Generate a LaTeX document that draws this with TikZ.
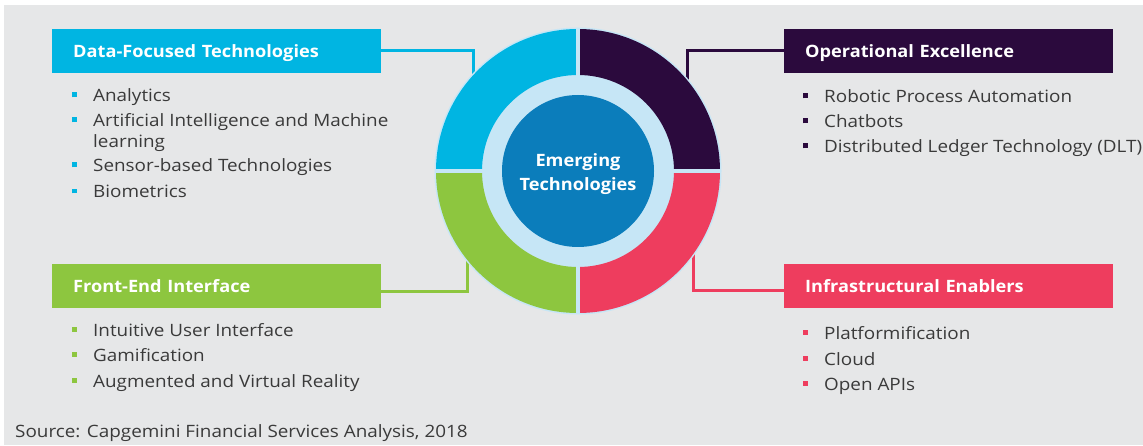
\documentclass[tikz,border=0pt]{standalone}
\usepackage{fontspec}
\setmainfont{Open Sans}
\newfontfamily\bodyfont[FakeStretch=1.11]{Open Sans}
\newfontfamily\headfont[FakeStretch=1.07]{Open Sans}

\definecolor{bggray}{HTML}{E6E7E8}
\definecolor{txtgray}{HTML}{3A3A3A}
\definecolor{datacol}{HTML}{00B5E2}
\definecolor{opcol}{HTML}{2B0A3D}
\definecolor{frontcol}{HTML}{8DC63F}
\definecolor{infracol}{HTML}{EE3D5E}
\definecolor{corecol}{HTML}{0B7DBB}
\definecolor{ringcol}{HTML}{C6E6F6}

\newcommand{\sqbul}[1]{\makebox[21pt][l]{\textcolor{#1}{\rule[4.5pt]{5pt}{5pt}}}}

\tikzset{
  head/.style={fill=#1, text=white, anchor=west, minimum height=44pt,
    text width=287pt, inner xsep=21pt, inner ysep=0pt, align=left,
    text height=14pt, text depth=0pt, font=\fontsize{17}{20}\headfont\bfseries},
  item/.style={anchor=base west, inner sep=0pt, text=txtgray,
    font=\fontsize{17}{20}\bodyfont},
  link/.style={draw=#1, line width=3pt}
}

\begin{document}
\begin{tikzpicture}[x=1pt,y=1pt]
  \useasboundingbox (0,0) rectangle (1143,445);
  \fill[bggray] (4,0) rectangle (1143,440);

  % headers
  \node[head=datacol] (datahead) at (52,394) {Data-Focused Technologies};
  \node[head=opcol] (ophead) at (784,394) {Operational Excellence};
  \node[head=frontcol] (fronthead) at (52,159.5) {Front-End Interface};
  \node[head=infracol] (infrahead) at (784,159.5) {Infrastructural Enablers};

  % connectors, ring is drawn over their ends
  \coordinate (dataend) at (473,362);
  \coordinate (opend) at (687,360);
  \coordinate (frontend) at (467,192);
  \coordinate (infraend) at (693,196);
  \draw[link=datacol] (datahead.east) -| (dataend);
  \draw[link=opcol] (ophead.west) -| (opend);
  \draw[link=frontcol] ([yshift=-5.5pt]fronthead.east) -| (frontend);
  \draw[link=infracol] ([yshift=-5pt]infrahead.west) -| (infraend);

  % ring
  \coordinate (c) at (578,274);
  \fill[ringcol] (c) circle (143.5pt);
  \fill[datacol] (c) ++(90:142pt) arc[start angle=90,end angle=180,radius=142pt]
     -- ++(0:46pt) arc[start angle=180,end angle=90,radius=96pt] -- cycle;
  \fill[opcol] (c) ++(0:142pt) arc[start angle=0,end angle=90,radius=142pt]
     -- ++(270:46pt) arc[start angle=90,end angle=0,radius=96pt] -- cycle;
  \fill[frontcol] (c) ++(180:142pt) arc[start angle=180,end angle=270,radius=142pt]
     -- ++(90:46pt) arc[start angle=270,end angle=180,radius=96pt] -- cycle;
  \fill[infracol] (c) ++(270:142pt) arc[start angle=270,end angle=360,radius=142pt]
     -- ++(180:46pt) arc[start angle=360,end angle=270,radius=96pt] -- cycle;
  \draw[ringcol, line width=4pt] ([xshift=-143pt]c) -- ([xshift=143pt]c);
  \draw[ringcol, line width=4pt] ([yshift=-143pt]c) -- ([yshift=143pt]c);
  \node[circle, fill=corecol, minimum size=152pt, inner sep=0pt] (core) at (c) {};
  \node[text=white, align=center, inner sep=0pt,
    font=\fontsize{17}{24}\headfont\bfseries] (coretext) at ([yshift=-3pt]core.center) {Emerging\\Technologies};

  % lists
  \node[item] (data1) at (72,343) {\sqbul{datacol}Analytics};
  \node[item] (data2) at (72,318) {\sqbul{datacol}Artificial Intelligence and Machine};
  \node[item] (data3) at (93,297) {learning};
  \node[item] (data4) at (72,273) {\sqbul{datacol}Sensor-based Technologies};
  \node[item] (data5) at (72,247) {\sqbul{datacol}Biometrics};

  \node[item] (op1) at (803,342) {\sqbul{opcol}Robotic Process Automation};
  \node[item] (op2) at (803,317) {\sqbul{opcol}Chatbots};
  \node[item] (op3) at (803,292) {\sqbul{opcol}Distributed Ledger Technology (DLT)};

  \node[item] (front1) at (72,109) {\sqbul{frontcol}Intuitive User Interface};
  \node[item] (front2) at (72,84) {\sqbul{frontcol}Gamification};
  \node[item] (front3) at (72,58) {\sqbul{frontcol}Augmented and Virtual Reality};

  \node[item] (infra1) at (803,106) {\sqbul{infracol}Platformification};
  \node[item] (infra2) at (803,80) {\sqbul{infracol}Cloud};
  \node[item] (infra3) at (803,55) {\sqbul{infracol}Open APIs};

  \node[item] (source) at (15,8) {Source: Capgemini Financial Services Analysis, 2018};
\end{tikzpicture}
\end{document}
